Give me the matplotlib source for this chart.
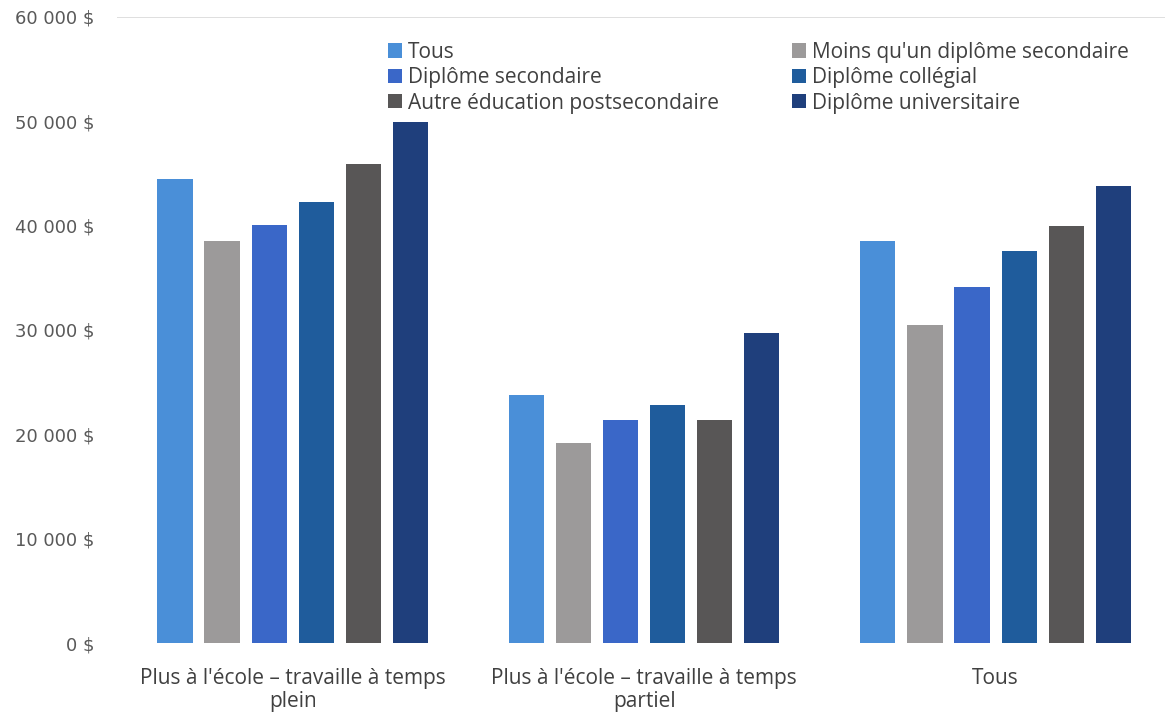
import numpy as np
import matplotlib.pyplot as plt
from matplotlib.ticker import FuncFormatter

groups = ["Plus à l'école – travaille à temps\nplein",
          "Plus à l'école – travaille à temps\npartiel",
          "Tous"]
series = ["Tous", "Moins qu'un diplôme secondaire", "Diplôme secondaire",
          "Diplôme collégial", "Autre éducation postsecondaire", "Diplôme universitaire"]

tous = [44500, 23800, 38500]
moins_secondaire = [38500, 19200, 30500]
secondaire = [40100, 21400, 34100]
collegial = [42300, 22800, 37600]
autre_postsec = [45900, 21400, 40000]
universitaire = [49900, 29700, 43800]

values = [tous, moins_secondaire, secondaire, collegial, autre_postsec, universitaire]
colors = ['#4a8fd8', '#9c9a9a', '#3a67c8', '#1f5c9c', '#585656', '#1f3f7c']

fonts = ['Open Sans', 'DejaVu Sans']

fig = plt.figure(figsize=(11.65, 7.14), dpi=100)
ax = fig.add_axes([0.1004, 0.0994, 0.905, 0.877])

x = np.arange(len(groups))
step = 0.134
width = 0.1
bars = []
for i, (name, vals, c) in enumerate(zip(series, values, colors)):
    bars.append(ax.bar(x + (i - 2.5) * step, vals, width, color=c, label=name, zorder=3))

ax.set_xlim(-0.5, 2.5)
ax.set_ylim(0, 60000)
ax.set_yticks(range(0, 60001, 10000))
ax.yaxis.set_major_formatter(FuncFormatter(lambda v, p: f"{int(v):,}".replace(",", " ") + " $"))
ax.axhline(60000, color='#d9d9d9', lw=1.2, zorder=1)

ax.set_xticks(x)
ax.set_xticklabels(groups, fontsize=15, color='#404040', linespacing=1.15, family=fonts)
for lbl in ax.get_yticklabels():
    lbl.set_fontsize(13)
    lbl.set_color('#595959')
ax.tick_params(axis='both', length=0)
ax.tick_params(axis='y', pad=16)
ax.tick_params(axis='x', pad=18)
for s in ax.spines.values():
    s.set_visible(False)

# row-wise legend order: fill rows left to right
order = [0, 2, 4, 1, 3, 5]
ax.legend([bars[k] for k in order], [series[k] for k in order],
          loc='upper left', bbox_to_anchor=(0.239, 0.990), ncol=2, frameon=False,
          prop={'family': fonts, 'size': 15}, handlelength=0.67, handleheight=0.67,
          handletextpad=0.29, columnspacing=3.5, labelspacing=0.21, labelcolor='#404040')

fig.savefig('out.png', dpi=100)
